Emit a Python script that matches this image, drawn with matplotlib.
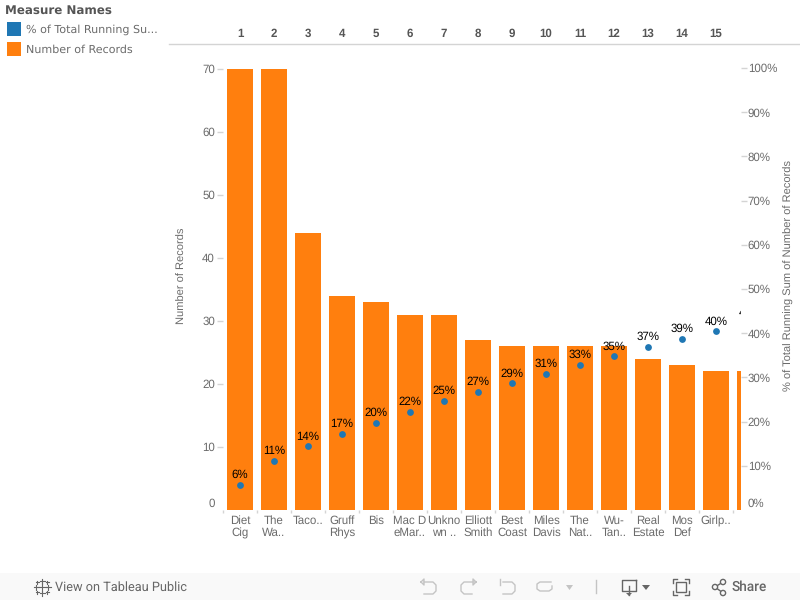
import matplotlib
matplotlib.use("Agg")
import matplotlib.pyplot as plt
from matplotlib.transforms import ScaledTranslation, Bbox
from matplotlib.patches import Rectangle, Polygon, Circle

labels = ["Diet\nCig", "The\nWa..", "Taco..", "Gruff\nRhys", "Bis", "Mac D\neMar..",
          "Unkno\nwn ..", "Elliott\nSmith", "Best\nCoast", "Miles\nDavis", "The\nNat..",
          "Wu-\nTan..", "Real\nEstate", "Mos\nDef", "Girlp..", "Ic.."]
ranks = list(range(1, 17))
records = [70, 70, 44, 34, 33, 31, 31, 27, 26, 26, 26, 26, 24, 23, 22, 22]
running_pct = [5.7, 11.1, 14.4, 17.2, 19.7, 22.2, 24.7, 26.7, 28.7, 30.8, 32.8, 34.8, 36.9, 38.7, 40.4, 42.3]
left_ticks = [0, 10, 20, 30, 40, 50, 60, 70]
right_ticks = [0, 10, 20, 30, 40, 50, 60, 70, 80, 90, 100]

BLUE, ORANGE = "#1f77b4", "#ff7f0e"
GREY, LIGHT, DARK = "#6b6b6b", "#d4d4d4", "#555555"
W, H = 800, 600
plt.rcParams["font.family"] = ["Liberation Sans", "DejaVu Sans"]
plt.rcParams["text.hinting"] = "no_hinting"

fig = plt.figure(figsize=(8, 6), dpi=100, facecolor="white")

def frame(l, t, r, b):
    return [l / W, 1 - b / H, (r - l) / W, (b - t) / H]

XLIM = (-0.5, (741 - 240) / 34)
ax = fig.add_axes(frame(223, 44, 741, 510))
x = list(range(len(records)))
ax.bar(x, records, width=26 / 34, color=ORANGE, linewidth=0)
for s in ax.spines.values():
    s.set_visible(False)
ax.set_xticks(x, labels)
ax.tick_params(axis="x", which="major", length=0, pad=4, labelsize=8.3, labelcolor=GREY)
ax.set_xticks([i - 0.5 for i in x], minor=True)
ax.tick_params(axis="x", which="minor", length=2.5, color=LIGHT, width=1)
ax.set_yticks(left_ticks)
ax.tick_params(axis="y", length=4.3, color=LIGHT, width=1, labelsize=8.3, labelcolor=GREY, pad=1.5)
ax.set_ylabel("Number of Records", fontsize=8, color=GREY, va="center")
ax.yaxis.set_label_coords((182 - 223) / (741 - 223), (510 - 276) / 466)
ax.set_xlim(*XLIM)
ax.set_ylim(0, 466 / 6.3)

clip = Bbox([[0, 0], [741, H]])
for t in ax.get_xticklabels():
    t.set_linespacing(1.08)
    t.set_clip_box(clip)
    t.set_clip_on(True)

top = ax.secondary_xaxis("top")
top.set_xticks(x[:15], [str(r) for r in ranks[:15]])
top.tick_params(axis="x", length=0, pad=3, labelsize=8.3)
for t in top.get_xticklabels():
    t.set_fontweight("bold")
    t.set_color(DARK)
top.spines["top"].set_visible(False)

ax2 = ax.twinx()
for s in ax2.spines.values():
    s.set_visible(False)
ax2.scatter(x, running_pct, s=24, color=BLUE, linewidths=0, zorder=3)
for xi, p in zip(x, running_pct):
    ax2.annotate(f"{p:.0f}%", (xi, p), xytext=(0, 3), textcoords="offset points",
                 ha="center", va="bottom", fontsize=8.3, color="black",
                 annotation_clip=False, clip_on=True, clip_box=clip)
ax2.set_yticks(right_ticks, [f"{v}%" for v in right_ticks])
ax2.tick_params(axis="y", length=4.3, color=LIGHT, width=1, labelsize=8.3, labelcolor=GREY, pad=0.5)
ax2.set_ylabel("% of Total Running Sum of Number of Records", fontsize=8, color=GREY, va="center")
ax2.yaxis.set_label_coords((789 - 223) / (741 - 223), (510 - 275) / 466)
ax2.set_xlim(*XLIM)
ax2.set_ylim(0, 466 / 4.42)

# The zero labels sit above the baseline and carry no tick mark
up = ScaledTranslation(0, 7 / 100, fig.dpi_scale_trans)
tick0 = ax.yaxis.get_major_ticks()[0]
tick0.tick1line.set_visible(False)
tick0.label1.set_transform(tick0.label1.get_transform() + up)
tick0 = ax2.yaxis.get_major_ticks()[0]
tick0.tick2line.set_visible(False)
tick0.label2.set_transform(tick0.label2.get_transform() + up)

# Page furniture drawn in pixel coordinates
over = fig.add_axes([0, 0, 1, 1], zorder=5)
over.set_xlim(0, W)
over.set_ylim(H, 0)
over.axis("off")
over.patch.set_alpha(0)
over.plot([169, 800], [44, 44], color=LIGHT, lw=1)
over.add_patch(Rectangle((0, 573), W, 27, color="#f9f9f9", lw=0))
over.text(5, 10.5, "Measure Names", family="DejaVu Sans", weight="bold", fontsize=8.6, color=DARK, va="center")
over.add_patch(Rectangle((7, 22), 14, 14, color=BLUE, lw=0))
over.add_patch(Rectangle((7, 42), 14, 14, color=ORANGE, lw=0))
over.text(26, 30, "% of Total Running Su...", family="DejaVu Sans", fontsize=8, color=GREY, va="center")
over.text(26, 50, "Number of Records", family="DejaVu Sans", fontsize=8, color=GREY, va="center")

TB = "#666666"
OFF = "#c4c4c4"
over.text(55, 587, "View on Tableau Public", fontsize=9.2, color=TB, va="center", family="Roboto")
over.text(732, 587, "Share", fontsize=9.8, color=TB, va="center", weight="medium", family="Roboto")
# Tableau logo
for dx, dy, r in [(0, 0, 4), (-6, 0, 2.5), (6, 0, 2.5), (0, -6, 2.5), (0, 6, 2.5),
                  (-5, -5, 1.5), (5, -5, 1.5), (-5, 5, 1.5), (5, 5, 1.5)]:
    over.plot([42 + dx - r, 42 + dx + r], [587 + dy, 587 + dy], color=TB, lw=0.8)
    over.plot([42 + dx, 42 + dx], [587 + dy - r, 587 + dy + r], color=TB, lw=0.8)
# Undo
over.plot([424, 433, 436, 436, 433, 424], [582, 582, 585, 591, 594, 594], color=OFF, lw=1)
over.plot([421, 424, 424, 421], [582, 579, 585, 582], color=OFF, lw=1)
# Redo
over.plot([476, 464, 461, 461, 464, 472], [582, 582, 585, 591, 594, 594], color=OFF, lw=1)
over.plot([476, 473, 473, 476], [582, 579, 585, 582], color=OFF, lw=1)
# Revert
over.plot([503, 512, 515, 515, 512, 503], [582, 582, 585, 591, 594, 594], color=OFF, lw=1)
over.plot([500, 500], [579, 585], color=OFF, lw=1)
# Refresh
over.plot([551, 540, 537, 537, 540, 549, 552, 552], [582, 582, 584, 589, 591, 591, 589, 586], color=OFF, lw=1)
over.add_patch(Polygon([[566, 585], [573, 585], [569.5, 590]], color=OFF, lw=0))
over.plot([596, 596], [580, 593], color=OFF, lw=1)
# Download
over.plot([636, 622, 622, 636, 636], [580, 580, 591, 591, 580], color=TB, lw=1)
over.plot([629, 629], [586, 595], color=TB, lw=1)
over.add_patch(Polygon([[626, 593], [632, 593], [629, 596]], color=TB, lw=0))
over.add_patch(Polygon([[642, 585], [650, 585], [646, 590]], color=TB, lw=0))
# Fullscreen
over.add_patch(Rectangle((676, 582), 10, 10, fill=False, ec=TB, lw=1))
for cx, cy, sx, sy in [(673, 579, 1, 1), (689, 579, -1, 1), (673, 595, 1, -1), (689, 595, -1, -1)]:
    over.plot([cx + 4 * sx, cx, cx], [cy, cy, cy + 4 * sy], color=TB, lw=1)
# Share
over.plot([723, 715, 723], [582, 587, 593], color=TB, lw=1)
for cx, cy in [(723, 582), (715, 587), (723, 593)]:
    over.add_patch(Circle((cx, cy), 2.6, fc="#f9f9f9", ec=TB, lw=1, zorder=3))

fig.savefig("out.png", dpi=100)
